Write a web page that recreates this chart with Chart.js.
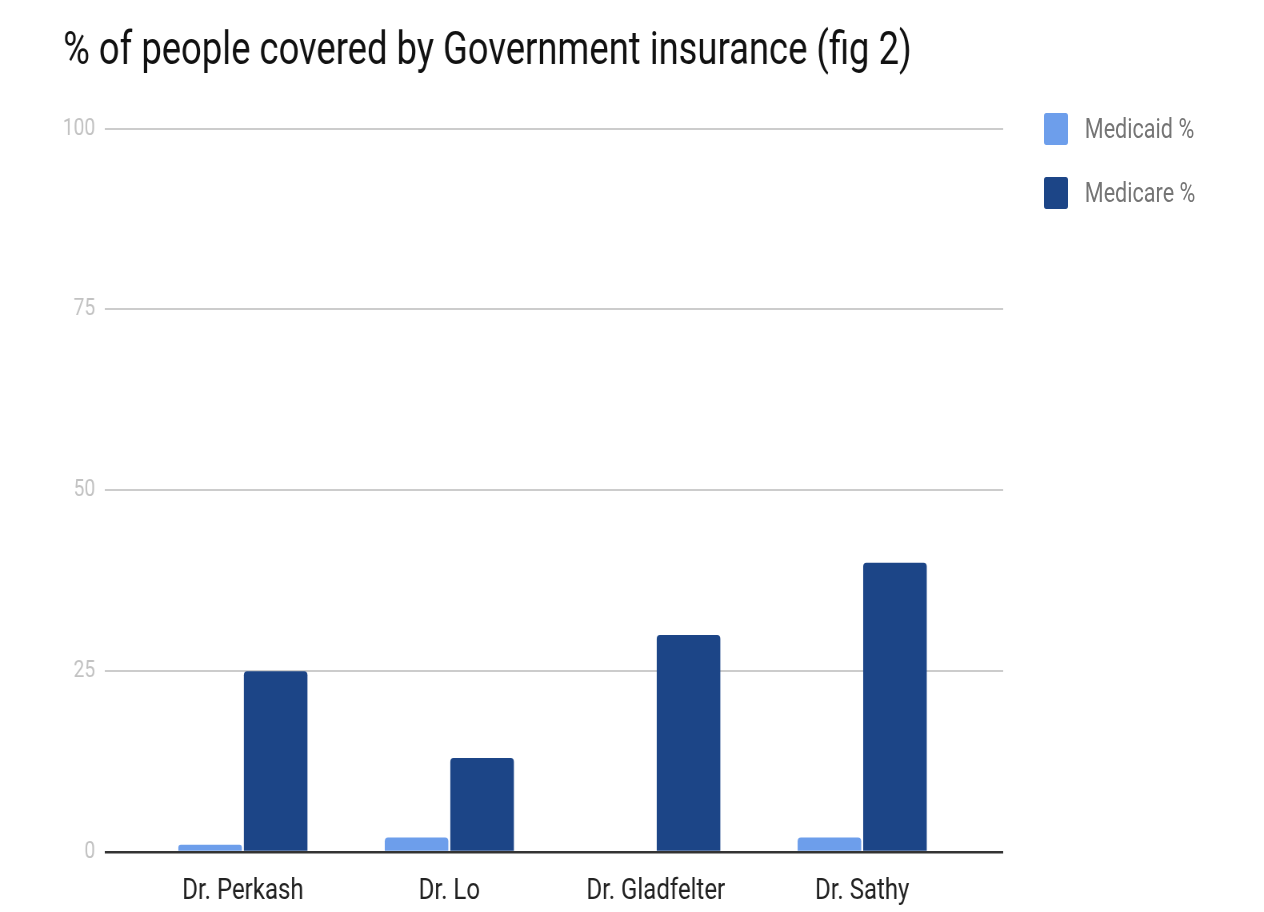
<!DOCTYPE html>
<html>
<head>
<meta charset="utf-8">
<script src="https://cdn.jsdelivr.net/npm/chart.js@4/dist/chart.umd.min.js"></script>
<style>
    body { margin: 0; background: #fff; overflow: hidden; }
    /* the reference is horizontally squeezed, so draw wide and scale down */
    #wrap { position: relative; width: 1580px; height: 912px; transform: scaleX(0.8); transform-origin: 0 0; }
    #legend { position: absolute; left: 1305px; top: 113px; font-family: Roboto, sans-serif; font-size: 27px; color: #757575; }
    .item { display: flex; align-items: center; height: 32px; margin-bottom: 32px; }
    .swatch { width: 30px; height: 32px; border-radius: 3px; margin-right: 21px; }
</style>
</head>
<body>
<div id="wrap">
    <canvas id="chart" width="1580" height="912"></canvas>
    <div id="legend"></div>
</div>
<script>
const categories = ["Dr. Perkash", "Dr. Lo", "Dr. Gladfelter", "Dr. Sathy"];
const medicaid = [1, 2, 0, 2];
const medicare = [25, 13, 30, 40];
const yTicks = [0, 25, 50, 75, 100];

const seriesNames = ["Medicaid %", "Medicare %"];
const seriesColors = ["#6d9eeb", "#1c4587"];

document.addEventListener("DOMContentLoaded", () => {
    const legend = document.getElementById("legend");
    seriesNames.forEach((name, i) => {
        const row = document.createElement("div");
        row.className = "item";
        row.innerHTML = '<span class="swatch" style="background:' + seriesColors[i] + '"></span>' + name;
        legend.appendChild(row);
    });

    const toPoints = (vals) => vals.map((v, i) => ({ x: i, y: v }));

    new Chart(document.getElementById("chart"), {
        type: "bar",
        data: {
            datasets: [
                {
                    label: seriesNames[0],
                    data: toPoints(medicaid),
                    backgroundColor: seriesColors[0],
                },
                {
                    label: seriesNames[1],
                    data: toPoints(medicare),
                    backgroundColor: seriesColors[1],
                },
            ],
        },
        options: {
            responsive: false,
            animation: false,
            layout: { padding: { left: 79, right: 326, top: 0, bottom: 0 } },
            datasets: {
                bar: {
                    categoryPercentage: 0.635,
                    barPercentage: 0.97,
                    borderRadius: 4,
                },
            },
            plugins: {
                legend: { display: false },
                tooltip: { enabled: false },
                title: {
                    display: true,
                    text: "% of people covered by Government insurance (fig 2)",
                    align: "start",
                    color: "#111",
                    font: { family: "Roboto", size: 45.5, weight: "normal" },
                    padding: { top: 25, bottom: 49 },
                },
            },
            scales: {
                x: {
                    type: "linear",
                    min: -0.669,
                    max: 3.683,
                    offset: false,
                    grid: { display: false },
                    border: { display: false },
                    afterBuildTicks: (scale) => {
                        scale.ticks = categories.map((c, i) => ({ value: i }));
                    },
                    afterFit: (scale) => { scale.height = 60; },
                    ticks: {
                        color: "#222",
                        padding: 13,
                        font: { family: "Roboto", size: 30 },
                        callback: (v) => categories[v],
                    },
                },
                y: {
                    min: 0,
                    max: 100,
                    border: { display: false },
                    afterBuildTicks: (scale) => {
                        scale.ticks = yTicks.map((v) => ({ value: v }));
                    },
                    afterFit: (scale) => { scale.width = 52; },
                    grid: {
                        drawTicks: false,
                        color: (ctx) => (ctx.tick && ctx.tick.value === 0 ? "#333" : "#ccc"),
                        lineWidth: (ctx) => (ctx.tick && ctx.tick.value === 0 ? 2.5 : 2),
                    },
                    ticks: {
                        color: "#c2c2c2",
                        padding: 12,
                        font: { family: "Roboto", size: 24 },
                    },
                },
            },
        },
    });
});
</script>
</body>
</html>
